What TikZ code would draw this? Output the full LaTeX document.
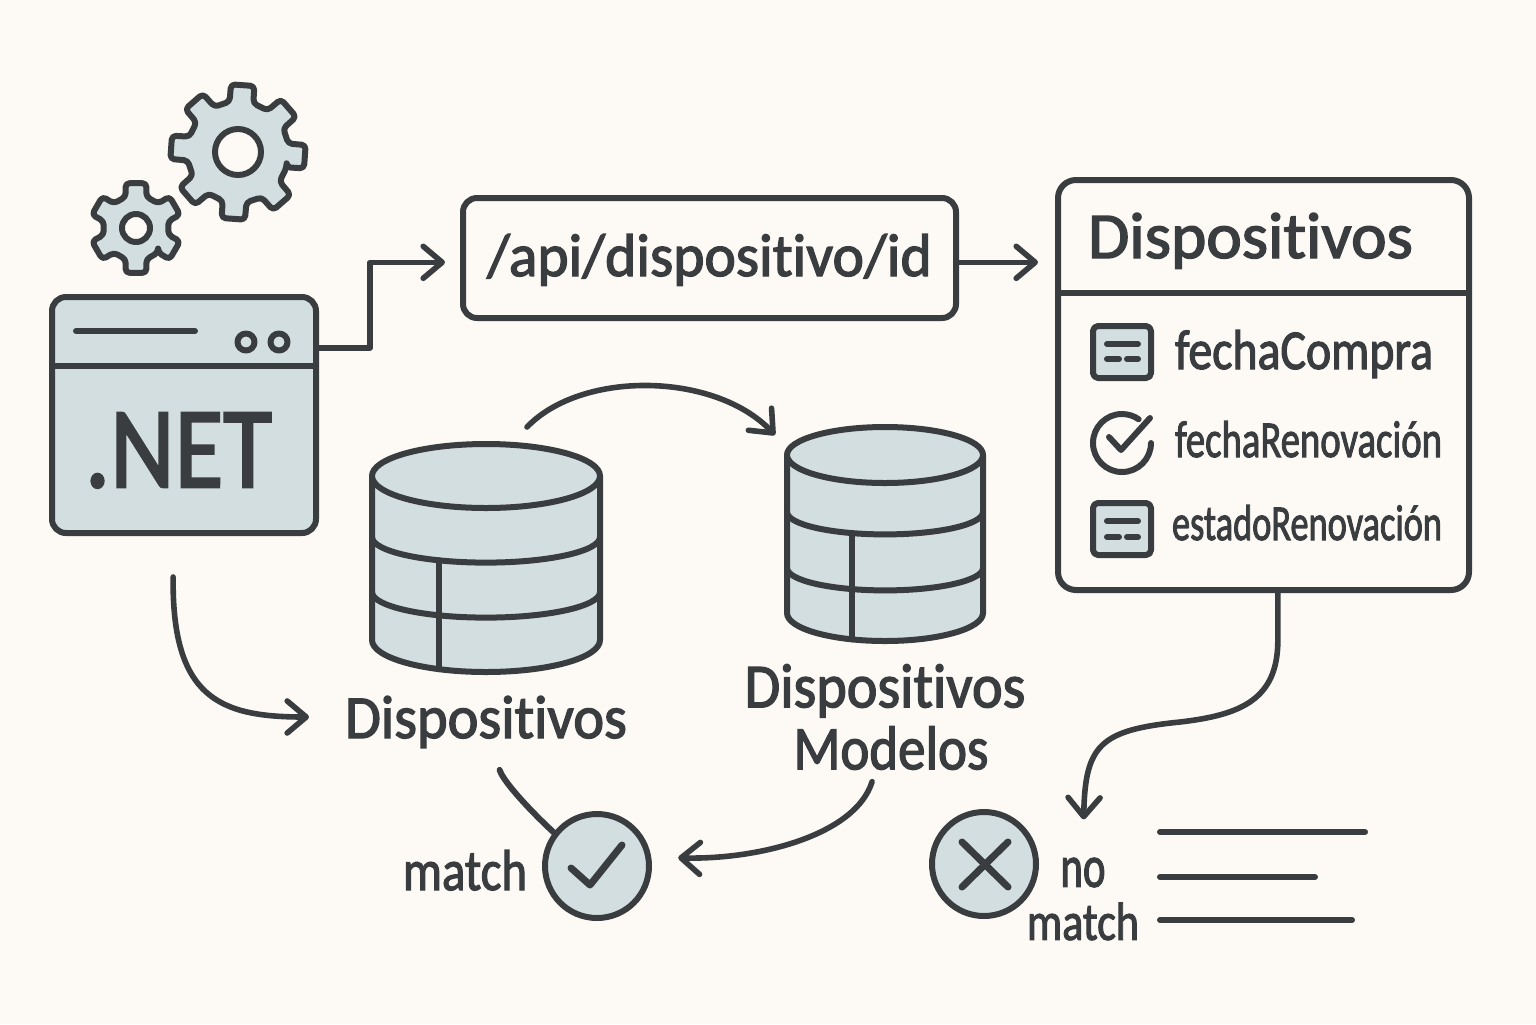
\documentclass[tikz,border=0pt]{standalone}
\usepackage{fontspec}
\usepackage{graphicx}
\setmainfont{Carlito}[Ligatures=NoCommon,BoldFont={Carlito},BoldFeatures={FakeBold=2.2}]
\AtBeginDocument{\bfseries}
\usetikzlibrary{arrows.meta,calc}
\definecolor{paper}{HTML}{FDFAF5}
\definecolor{panel}{HTML}{D2DEDF}
\definecolor{ink}{HTML}{3A3D3F}
\newcommand{\lbl}[3]{\resizebox{#1pt}{#2pt}{#3}}
\tikzset{
    line/.style = {
        draw = ink,
        line width = 3pt,
        line join = round,
        line cap = round,
        },
    frame/.style = {
        line,
        rectangle,
        inner sep = 0pt,
        outer sep = 0pt,
        },
    text mark/.style = {
        inner sep = 0pt,
        outer sep = 0pt,
        text = ink,
        anchor = base west,
        },
    conn/.style = {
        line,
        line width = 2.8pt,
        -{Straight Barb[length=9.5pt,width=16pt,round]},
        },
    gear line/.style = {
        line,
        fill = panel,
        rounded corners = 2pt,
        },
    hub/.style = {
        line,
        circle,
        fill = paper,
        inner sep = 0pt,
        outer sep = 0pt,
        },
    mark circle/.style = {
        line,
        circle,
        fill = panel,
        minimum size = 52pt,
        inner sep = 0pt,
        outer sep = 0pt,
        },
    dot/.style = {
        line,
        circle,
        fill = panel,
        minimum size = 8.5pt,
        inner sep = 0pt,
        },
    field box/.style = {
        frame,
        fill = panel,
        rounded corners = 2.5pt,
        minimum width = 29pt,
        minimum height = 26pt,
        },
}
% #1 name, #2 #3 centre, #4 teeth, #5 tip radius, #6 root radius, #7 turn, #8 hole size
\newcommand{\gearicon}[8]{
    \pgfmathsetmacro{\pitch}{360/#4}
    \draw[gear line, shift={(#2,#3)}] ({#7+0.3*\pitch}:#6)
        \foreach \k in {1,...,#4}{
            -- ({#7+\k*\pitch-0.3*\pitch}:#6)
            -- ({#7+\k*\pitch-0.22*\pitch}:#5)
            -- ({#7+\k*\pitch+0.22*\pitch}:#5)
            -- ({#7+\k*\pitch+0.3*\pitch}:#6)
        } -- cycle;
    \node[hub, minimum size=#8pt] (#1) at (#2,#3) {};
}
% #1 name, #2 centre x, #3 half width, #4 top y, #5 top radius, #6 #7 bands, #8 bottom y, #9 post x
\newcommand{\dbicon}[9]{
    \node[inner sep=0pt, outer sep=0pt, minimum width=#3pt, minimum height={(#8-#4+2*#5)*0.5pt}] (#1) at (#2,{(#4+#8)/2}) {};
    \fill[panel] (#2-#3,#4) -- (#2-#3,#8) arc (180:0:#3 and #5) -- (#2+#3,#4) -- cycle;
    \draw[line] (#2-#3,#6) arc (180:0:#3 and 0.8*#5);
    \draw[line] (#2-#3,#7) arc (180:0:#3 and 0.8*#5);
    \draw[line] (#9,{#6+0.8*#5*sqrt(1-((#9-#2)/#3)^2)}) -- (#9,{#8+#5*sqrt(1-((#9-#2)/#3)^2)});
    \draw[line] (#2-#3,#4) -- (#2-#3,#8) arc (180:0:#3 and #5) -- (#2+#3,#4);
    \draw[line, fill=panel] (#2,#4) ellipse (#3 and #5);
}
\begin{document}
\begin{tikzpicture}[x=0.5pt,y=-0.5pt]
            \fill[paper] (0,0) rectangle (1536,1024);
            \useasboundingbox (0,0) rectangle (1536,1024);

            % gears
            \gearicon{gearBig}{238}{152}{8}{68}{51}{4}{23}
            \gearicon{gearSmall}{136}{228}{6}{46}{33}{30}{14}

            % main boxes
            \node[frame, fill=panel, rounded corners=7pt, minimum width=132pt, minimum height=118pt] (net) at (184,415) {};
            \draw[line] (net.west |- 0,366) -- (net.east |- 0,366);
            \draw[line] (76,331) -- (195,331);
            \node[dot] (dotA) at (246,342) {};
            \node[dot] (dotB) at (279,342) {};
            \node[text mark] (netText) at (85,487) {\lbl{93.5}{37}{.NET}};

            \node[frame, fill=paper, rounded corners=7pt, minimum width=246.5pt, minimum height=60pt] (api) at (709.5,258) {};
            \node[text mark] (apiText) at (487,276) {\lbl{222.5}{21}{/api/dispositivo/id}};

            \node[frame, fill=paper, rounded corners=9pt, minimum width=205.5pt, minimum height=205pt] (table) at (1263.5,385) {};
            \draw[line] (table.west |- 0,293) -- (table.east |- 0,293);
            \node[text mark] (tableText) at (1088,258) {\lbl{162.5}{22.5}{Dispositivos}};

            % fields
            \node[field box] (boxA) at (1122,352) {};
            \draw[line] (1107,344) -- (1138,344);
            \draw[line] (1107,359) -- (1119,359);
            \draw[line] (1127,359) -- (1138,359);
            \node[text mark] (fieldA) at (1175,369) {\lbl{129}{19.5}{fechaCompra}};

            \draw[line] (1151,443) arc (0:305:29);
            \draw[line] (1109,437) -- (1121,450) -- (1150,418);
            \node[text mark] (fieldB) at (1175,457) {\lbl{133.5}{18}{fechaRenovación}};

            \node[field box] (boxC) at (1122,529) {};
            \draw[line] (1107,521) -- (1138,521);
            \draw[line] (1107,537) -- (1119,537);
            \draw[line] (1127,537) -- (1138,537);
            \node[text mark] (fieldC) at (1172,540) {\lbl{135}{17.5}{estadoRenovación}};

            % databases
            \dbicon{dbA}{486}{114}{476}{32}{537}{592}{640}{439}
            \dbicon{dbB}{885}{98}{455}{28}{512}{568}{613}{852}
            \node[text mark] (dbAText) at (345,738) {\lbl{141}{21}{Dispositivos}};
            \node[inner sep=0pt, text=ink, align=center, font=\fontsize{20pt}{31pt}\selectfont] (dbBText) at (885,717)
                {\lbl{140.5}{21.5}{Dispositivos}\\\hspace{6pt}\lbl{97.5}{21.5}{Modelos}};

            % match marks
            \draw[line, shorten <=11.5pt] (dbAText.-75) .. controls +(12,40) and +(-25,-12) .. (597,866);
            \node[mark circle] (yes) at (597,866) {};
            \draw[line, line width=3.5pt] (571,868) -- (590,885) -- (622,845);
            \node[text mark] (yesText) at (403,890) {\lbl{62}{20}{match}};

            \node[mark circle] (nope) at (984,864) {};
            \draw[line, line width=3.5pt] (962,842) -- (1008,887);
            \draw[line, line width=3.5pt] (1008,842) -- (962,887);
            \node[inner sep=0pt, text=ink, align=center, font=\fontsize{20pt}{26.5pt}\selectfont] (nopeText) at (1083,899)
                {\lbl{22.5}{14.5}{no}\\\lbl{56}{18.5}{match}};
            \draw[line] (1160,832) -- (1365,832);
            \draw[line] (1160,877) -- (1315,877);
            \draw[line] (1160,920) -- (1352,920);

            % connectors
            \draw[conn, shorten >=9pt] (net.27) -- ++(54,0) |- (api.181);
            \draw[conn, shorten >=10pt] (api.-1) -- (api.-1 -| table.west);
            \draw[conn, shorten <=22pt, shorten >=18pt] (net.-95) .. controls +(-2,165) and +(-125,0) .. (dbAText.178);
            \draw[conn] ([shift={(41,-17)}]dbA.north) .. controls +(55,-57) and +(-60,-63) .. ([shift={(-12,8)}]dbB.north west);
            \draw[conn, shorten <=6pt, shorten >=15pt] (dbBText.-100) .. controls +(-20,65) and +(110,3) .. (yes.10);
            \draw[conn, shorten >=19pt] (table.-86) -- ++(0,50) .. controls (1278,700) and (1240,715) .. (1180,722)
                .. controls (1100,730) and (1085,745) .. (nopeText.north);
        \end{tikzpicture}
\end{document}
